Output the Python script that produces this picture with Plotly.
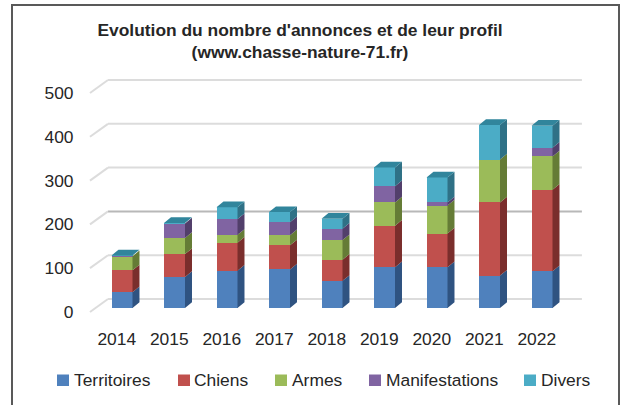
import plotly.graph_objects as go

years = [2014, 2015, 2016, 2017, 2018, 2019, 2020, 2021, 2022]
territoires = [36, 71, 85, 88, 62, 93, 93, 74, 84]
chiens = [50, 52, 64, 55, 48, 95, 77, 167, 186]
armes = [32, 37, 18, 23, 45, 53, 64, 98, 76]
manifestations = [1, 33, 36, 30, 26, 37, 7, 0, 20]
divers = [1, 1, 27, 23, 23, 43, 57, 79, 50]
y_ticks = [0, 100, 200, 300, 400, 500]
series_names = ["Territoires", "Chiens", "Armes", "Manifestations", "Divers"]
series_values = [territoires, chiens, armes, manifestations, divers]
front_colors = ["#4F81BD", "#C0504D", "#9BBB59", "#8064A2", "#4BACC6"]
side_colors = ["#2F5381", "#7A2E2C", "#657C36", "#523F6B", "#2F7186"]
top_color = "#31859C"
FONT = "Liberation Sans, Arial, sans-serif"

W, H = 622, 405
L, R, T, B = 80, 590, 70, 316   # plot area in pixels
def px(x): return (x - L) / (R - L)
def py(y): return (B - y) / (B - T)

BAR_W = 0.4
DX, DY = 0.133, 13
WALL_Y, FLOOR_Y = 20.5, -9.1
SLANT_X0, WALL_X0, WALL_X1 = 2013.39, 2013.733, 2022.76
LABEL_SHIFT = 0.1
legend_swatch_x = [57, 178, 275, 369, 524]
legend_text_x = [73, 193, 291, 385, 540]

fig = go.Figure()

shapes = []
for t in y_ticks:
    col = "#b8b8b8" if t == 200 else "#dcdcdc"
    shapes.append(dict(type="line", layer="below", xref="x", yref="y", x0=WALL_X0, x1=WALL_X1,
                       y0=t + WALL_Y, y1=t + WALL_Y, line=dict(color=col, width=2)))
    shapes.append(dict(type="line", layer="below", xref="x", yref="y", x0=SLANT_X0, x1=WALL_X0,
                       y0=t + FLOOR_Y, y1=t + WALL_Y, line=dict(color="#dcdcdc", width=2)))
shapes.append(dict(type="path", xref="paper", yref="paper", layer="above",
                   path=f"M {px(12)},{py(420)} L {px(12)},{py(5)} L {px(619)},{py(5)} L {px(619)},{py(420)}",
                   line=dict(color="#595959", width=2)))

annotations = []
for name, col, sx, tx in zip(series_names, front_colors, legend_swatch_x, legend_text_x):
    shapes.append(dict(type="rect", xref="paper", yref="paper", x0=px(sx), x1=px(sx + 12),
                       y0=py(386), y1=py(374.5), fillcolor=col, line=dict(width=0)))
    annotations.append(dict(xref="paper", yref="paper", x=px(tx), y=py(380), text=name, showarrow=False,
                            xanchor="left", yanchor="middle", xshift=0,
                            font=dict(family=FONT, size=17.4, color="#262626"), borderpad=0))

for name, vals, col in zip(series_names, series_values, front_colors):
    fig.add_trace(go.Bar(x=years, y=vals, name=name, width=BAR_W,
                         marker=dict(color=col, line=dict(width=0)), hoverinfo="x+y+name"))

base = [0] * len(years)
for name, vals, col in zip(series_names, series_values, side_colors):
    xs, ys = [], []
    for yr, b, v in zip(years, base, vals):
        r = yr + BAR_W / 2
        xs += [r, r + DX, r + DX, r, r, None]
        ys += [b, b + DY, b + v + DY, b + v, b, None]
    fig.add_trace(go.Scatter(x=xs, y=ys, fill="toself", fillcolor=col, mode="lines",
                             line=dict(width=0, color=col), showlegend=False, hoverinfo="skip"))
    base = [b + v for b, v in zip(base, vals)]

xs, ys = [], []
for yr, h in zip(years, base):
    l, r = yr - BAR_W / 2, yr + BAR_W / 2
    xs += [l, r, r + DX, l + DX, l, None]
    ys += [h, h, h + DY, h + DY, h, None]
fig.add_trace(go.Scatter(x=xs, y=ys, fill="toself", fillcolor=top_color, mode="lines",
                         line=dict(width=0, color=top_color), showlegend=False, hoverinfo="skip"))

fig.update_layout(
    width=W, height=H, barmode="stack", autosize=False, showlegend=False,
    margin=dict(l=L, r=W - R, t=T, b=H - B),
    paper_bgcolor="white", plot_bgcolor="white",
    font=dict(family=FONT, size=17.4, color="#262626"),
    shapes=shapes, annotations=annotations,
    title=dict(text="Evolution du nombre d'annonces et de leur profil<br>(www.chasse-nature-71.fr)",
               x=300 / W, xanchor="center", y=1 - 35.5 / H, yanchor="middle",
               font=dict(family=FONT, size=17.4, color="#262626", weight="bold")),
    xaxis=dict(range=[2013.2, 2022.914], showgrid=False, zeroline=False, showline=False,
               tickmode="array", tickvals=[y - LABEL_SHIFT for y in years], ticktext=[str(y) for y in years],
               ticks="outside", ticklen=7, tickcolor="rgba(0,0,0,0)"),
    yaxis=dict(range=[-18.3, 543.4], showgrid=False, zeroline=False, showline=False,
               tickmode="array", tickvals=[t + FLOOR_Y for t in y_ticks], ticktext=[str(t) for t in y_ticks],
               ticks="outside", ticklen=2, tickcolor="rgba(0,0,0,0)"),
)
fig.write_html("out.html", config={"displayModeBar": False},
               post_script="document.body.style.margin='0';document.body.style.overflow='hidden';")
